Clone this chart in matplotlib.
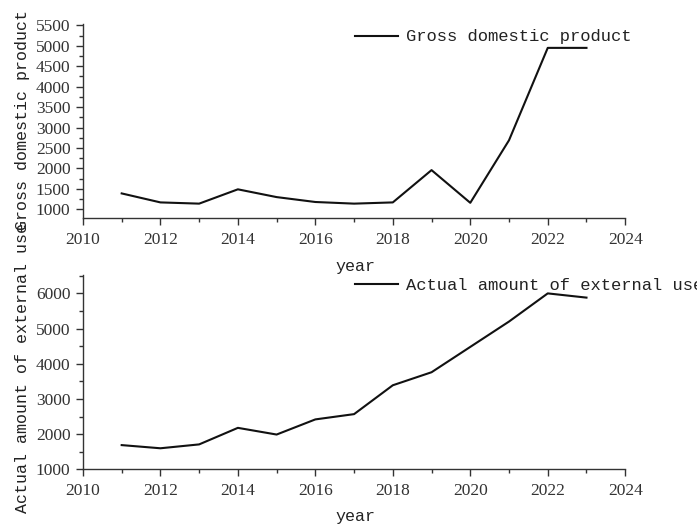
import matplotlib
matplotlib.use("Agg")
import matplotlib.pyplot as plt
from matplotlib.ticker import MultipleLocator

# yearly series
years = [2011, 2012, 2013, 2014, 2015, 2016, 2017, 2018, 2019, 2020, 2021, 2022, 2023]
gdp = [1390, 1170, 1140, 1490, 1300, 1180, 1140, 1170, 1960, 1160, 2690, 4950, 4950]
external_use = [1690, 1600, 1710, 2180, 1990, 2420, 2570, 3390, 3760, 4480, 5200, 6000, 5880]

gdp_name = "Gross domestic product"
ext_name = "Actual amount of external use"

label_font = "Liberation Mono"
tick_font = "Liberation Serif"
ink = "#222222"

fig = plt.figure(figsize=(6.97, 5.28), dpi=100)
ax1 = fig.add_axes([0.119, 0.587, 0.778, 0.368])
ax2 = fig.add_axes([0.119, 0.111, 0.778, 0.368])


def style_axes(ax):
    for side in ("top", "right"):
        ax.spines[side].set_visible(False)
    for side in ("left", "bottom"):
        ax.spines[side].set_color("#333333")
        ax.spines[side].set_linewidth(1.0)
    ax.set_xlim(2010, 2024)
    ax.xaxis.set_major_locator(MultipleLocator(2))
    ax.xaxis.set_minor_locator(MultipleLocator(1))
    ax.tick_params(which="major", direction="out", length=5, width=1, color="#333333",
                   labelsize=12.5, labelcolor="#333333")
    ax.tick_params(which="minor", direction="out", length=3, width=1, color="#333333")
    ax.tick_params(axis="x", which="major", pad=5)
    ax.tick_params(axis="y", which="major", pad=4)
    for lbl in ax.get_xticklabels() + ax.get_yticklabels():
        lbl.set_fontfamily(tick_font)


# top: gross domestic product
ax1.plot(years, gdp, color="#111111", linewidth=1.5, label=gdp_name)
ax1.set_ylim(787, 5540)
ax1.yaxis.set_major_locator(MultipleLocator(500))
ax1.yaxis.set_minor_locator(MultipleLocator(250))
style_axes(ax1)

# bottom: actual amount of external use
ax2.plot(years, external_use, color="#111111", linewidth=1.5, label=ext_name)
ax2.set_ylim(1000, 6520)
ax2.yaxis.set_major_locator(MultipleLocator(1000))
ax2.yaxis.set_minor_locator(MultipleLocator(500))
style_axes(ax2)

# axis titles placed by hand so the long ones can overlap like the original export
W, H = 697.0, 528.0
fig.text(23 / W, 1 - 120 / H, gdp_name, rotation=90, ha="center", va="center",
         family=label_font, fontsize=12, color=ink)
fig.text(23 / W, 1 - 368 / H, ext_name, rotation=90, ha="center", va="center",
         family=label_font, fontsize=12, color=ink)
fig.text(355 / W, 1 - 267 / H, "year", ha="center", va="center",
         family=label_font, fontsize=12, color=ink)
fig.text(355 / W, 1 - 517 / H, "year", ha="center", va="center",
         family=label_font, fontsize=12, color=ink)

# legends without frame
for ax, ypix in ((ax1, 37), (ax2, 285)):
    ax.legend(loc="center left", bbox_to_anchor=(355 / W, 1 - ypix / H),
              bbox_transform=fig.transFigure, frameon=False, borderpad=0,
              borderaxespad=0, handlelength=2.5, handletextpad=0.5,
              prop={"family": label_font, "size": 12.3}, labelcolor=ink)

fig.savefig("out.png", dpi=100)
